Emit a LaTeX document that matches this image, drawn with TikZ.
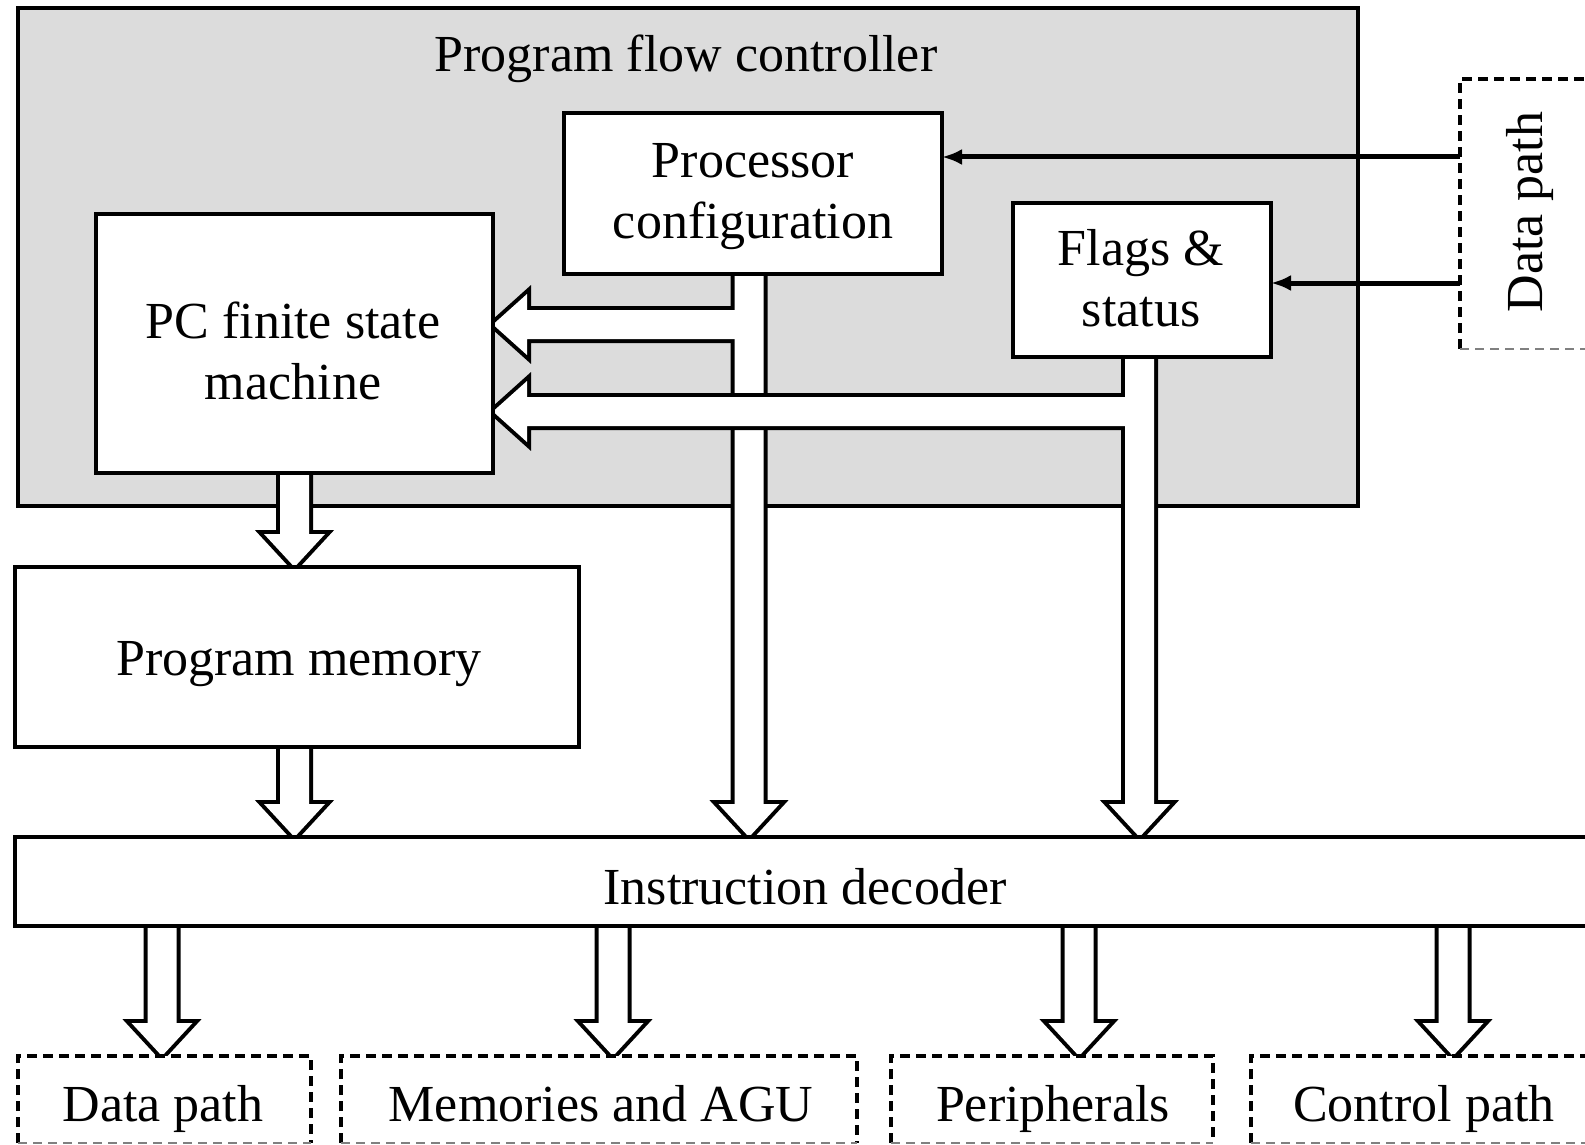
\documentclass[tikz,border=0pt]{standalone}
\usepackage{fontspec}
\setmainfont{Liberation Serif}
\usetikzlibrary{calc,arrows.meta}
\definecolor{panelgray}{RGB}{220,220,220}

% hollow bus arrow pointing down: #1 path options, #2 start, #3 tip
\newcommand\busdown[3]{\path[#1] ($(#2)+(-14.5,0)$) -- ($(#3)+(-14.5,-33)$) -- ($(#3)+(-30.5,-33)$) -- (#3)
  -- ($(#3)+(30.5,-33)$) -- ($(#3)+(14.5,-33)$) -- ($(#2)+(14.5,0)$) -- cycle;}
% hollow bus arrow pointing left: #1 path options, #2 start, #3 tip
\newcommand\busleft[3]{\path[#1] ($(#2)+(0,-14.5)$) -- ($(#3)+(34,-14.5)$) -- ($(#3)+(34,-30.5)$) -- (#3)
  -- ($(#3)+(34,30.5)$) -- ($(#3)+(34,14.5)$) -- ($(#2)+(0,14.5)$) -- cycle;}

\begin{document}
\begin{tikzpicture}[x=1pt,y=-1pt,line join=miter,
  lw/.style={line width=4pt},
  box/.style={draw,lw,fill=white,inner sep=0pt,outer sep=0pt,anchor=north west},
  blank/.style={inner sep=0pt,outer sep=0pt,anchor=north west},
  dashedge/.style={line width=4.5pt,dash pattern=on 10pt off 6pt},
  thinedge/.style={line width=1.5pt,gray,dash pattern=on 9pt off 6pt},
  busline/.style={draw,line width=8pt},
  busfill/.style={fill=white},
  txt/.style={inner sep=0pt,outer sep=0pt,font=\fontsize{52}{61}\selectfont},
  sig/.style={line width=5pt,-{Latex[length=20pt,width=16pt]}}]
\useasboundingbox (0,0) rectangle (1585,1145);
\clip (0,0) rectangle (1585,1145);

% program flow controller panel
\node[box,fill=panelgray,minimum width=1340,minimum height=498] (pfc) at (18,8) {};

% block outlines (placed first so arrow ends can refer to them)
\path node[blank,minimum width=378,minimum height=161] (pc) at (564,113) {}
      node[blank,minimum width=258,minimum height=154] (fl) at (1013,203) {}
      node[blank,minimum width=397,minimum height=259] (pcf) at (96,214) {}
      node[blank,minimum width=564,minimum height=180] (pm) at (15,567) {}
      node[blank,minimum width=1600,minimum height=89] (id) at (15,837) {}
      node[blank,minimum width=293,minimum height=87] (dpb) at (18,1056) {}
      node[blank,minimum width=516,minimum height=87] (mab) at (341,1056) {}
      node[blank,minimum width=322,minimum height=87] (peb) at (891,1056) {}
      node[blank,minimum width=400,minimum height=87] (cpb) at (1251,1056) {}
      node[blank,minimum width=200,minimum height=270] (rdp) at (1460,79) {};

% bus arrow end points
\coordinate (lv1) at (0,324.5);
\coordinate (lv2) at (0,411.5);
\coordinate (a1s) at ([yshift=12pt]pcf.south);
\coordinate (a1t) at (a1s |- pm.north);
\coordinate (a2e) at (pm.south -| a1s);
\coordinate (a2s) at ([yshift=12pt]a2e);
\coordinate (a2t) at (a1s |- id.north);
\coordinate (a3s) at ([xshift=-4pt,yshift=12pt]pc.south);
\coordinate (a3t) at (a3s |- id.north);
\coordinate (a4s) at ([xshift=-2.5pt,yshift=12pt]fl.south);
\coordinate (a4t) at (a4s |- id.north);
\coordinate (h1s) at (a3s |- lv1);
\coordinate (h1t) at (pcf.east |- lv1);
\coordinate (h2s) at (a4s |- lv2);
\coordinate (h2t) at (pcf.east |- lv2);
\coordinate (b1e) at (id.south -| 162,0);
\coordinate (b2e) at (id.south -| 613,0);
\coordinate (b3e) at (id.south -| 1079,0);
\coordinate (b4e) at (id.south -| 1453,0);
\foreach \i in {1,2,3,4} {\coordinate (b\i s) at ([yshift=12pt]b\i e);}
\coordinate (b1t) at (b1e |- dpb.north);
\coordinate (b2t) at (b2e |- mab.north);
\coordinate (b3t) at (b3e |- peb.north);
\coordinate (b4t) at (b4e |- cpb.north);

% buses: outlines first, then white interiors, so joined buses merge
\foreach \st in {busline,busfill} {
  \busdown{\st}{a1s}{a1t}
  \busdown{\st}{a2s}{a2t}
  \busdown{\st}{a3s}{a3t}
  \busleft{\st}{h1s}{h1t}
  \busdown{\st}{b1s}{b1t}
  \busdown{\st}{b2s}{b2t}
  \busdown{\st}{b3s}{b3t}
  \busdown{\st}{b4s}{b4t}
}
% the flags bus passes over the configuration bus
\foreach \st in {busline,busfill} {
  \busdown{\st}{a4s}{a4t}
  \busleft{\st}{h2s}{h2t}
}

% solid blocks
\foreach \n in {pc,fl,pcf,pm,id}
  \draw[lw,fill=white] (\n.north west) rectangle (\n.south east);

% dashed external blocks
\foreach \n in {dpb,mab,peb,cpb} {
  \fill[white] (\n.north west) rectangle (\n.south east);
  \draw[dashedge] (\n.south west) -- (\n.north west) -- (\n.north east) -- (\n.south east);
  \draw[thinedge] (\n.south west) -- (\n.south east);
}
\fill[white] (rdp.north west) rectangle (rdp.south east);
\draw[dashedge] (rdp.south west) -- (rdp.north west) -- (rdp.north east);
\draw[thinedge] (rdp.south west) -- (rdp.south east);

% signals from the data path
\coordinate (d1) at (rdp.west |- 0,157);
\coordinate (d2) at (rdp.west |- 0,283);
\draw[sig] (d1) -- (pc.east |- d1);
\draw[sig] (d2) -- (fl.east |- d2);

% labels
\node[txt,anchor=base] (pfcl) at (686,72) {Program flow controller};
\node[txt,align=center] (pcl) at (753,197) {Processor\\configuration};
\node[txt,align=center] (fll) at (1141,278.5) {Flags \&\\status};
\node[txt,align=center] (pcfl) at (293,351) {PC finite state\\machine};
\node[txt,anchor=base] (pml) at (299,675) {Program memory};
\node[txt,anchor=base] (idl) at (805,904.5) {Instruction decoder};
\node[txt,anchor=base] (dpl) at (163,1121.5) {Data path};
\node[txt,anchor=base] (mal) at (601,1121.5) {Memories and AGU};
\node[txt,anchor=base] (pel) at (1053,1121.5) {Peripherals};
\node[txt,anchor=base] (cpl) at (1424,1121.5) {Control path};
\node[txt,rotate=90] (rdpl) at (1530,212) {Data path};
\end{tikzpicture}
\end{document}
